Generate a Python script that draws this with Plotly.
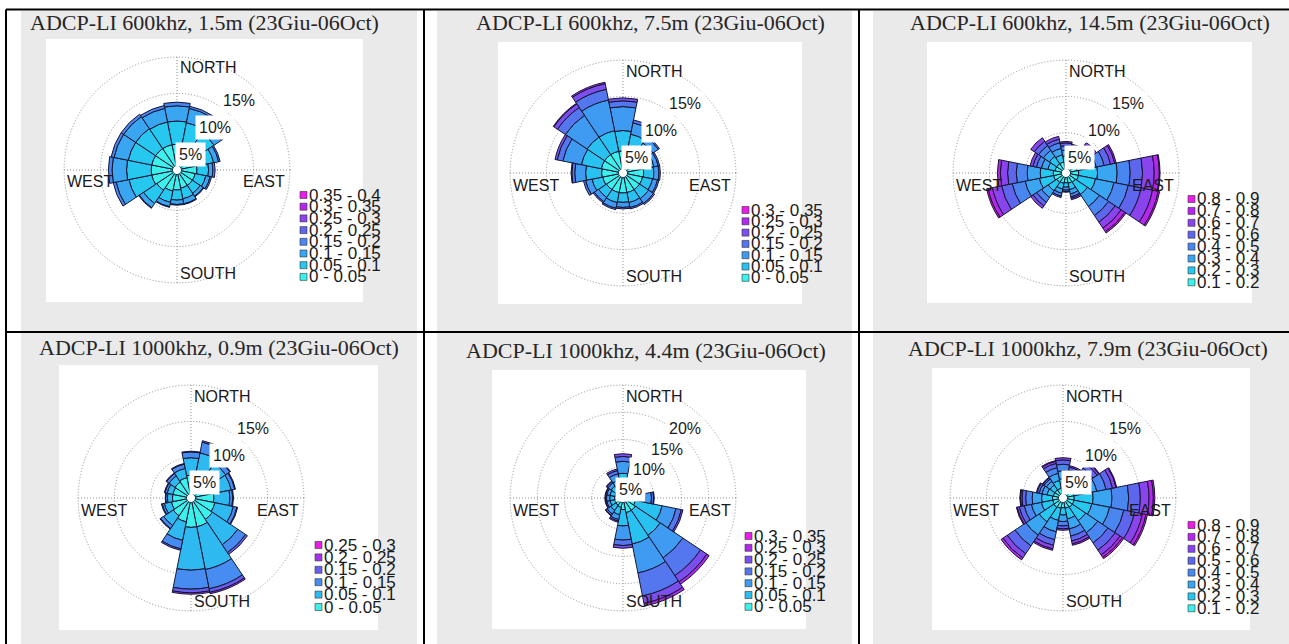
import math
import plotly.graph_objects as go

W, H = 1289, 644

# ---------------- DATA ----------------
DIRECTIONS = ["N", "NNE", "NE", "ENE", "E", "ESE", "SE", "SSE",
              "S", "SSW", "SW", "WSW", "W", "WNW", "NW", "NNW"]
THETA = [0, 22.5, 45, 67.5, 90, 112.5, 135, 157.5,
         180, 202.5, 225, 247.5, 270, 292.5, 315, 337.5]

TITLES = [
    "ADCP-LI 600khz, 1.5m (23Giu-06Oct)",
    "ADCP-LI 600khz, 7.5m (23Giu-06Oct)",
    "ADCP-LI 600khz, 14.5m (23Giu-06Oct)",
    "ADCP-LI 1000khz, 0.9m (23Giu-06Oct)",
    "ADCP-LI 1000khz, 4.4m (23Giu-06Oct)",
    "ADCP-LI 1000khz, 7.9m (23Giu-06Oct)",
]

CLASSES_P1 = ["0 - 0.05", "0.05 - 0.1", "0.1 - 0.15", "0.15 - 0.2",
              "0.2 - 0.25", "0.25 - 0.3", "0.3 - 0.35", "0.35 - 0.4"]
CLASSES_P2 = ["0 - 0.05", "0.05 - 0.1", "0.1 - 0.15", "0.15 - 0.2",
              "0.2 - 0.25", "0.25 - 0.3", "0.3 - 0.35"]
CLASSES_P3 = ["0.1 - 0.2", "0.2 - 0.3", "0.3 - 0.4", "0.4 - 0.5",
              "0.5 - 0.6", "0.6 - 0.7", "0.7 - 0.8", "0.8 - 0.9"]
CLASSES_P4 = ["0 - 0.05", "0.05 - 0.1", "0.1 - 0.15", "0.15 - 0.2",
              "0.2 - 0.25", "0.25 - 0.3"]
CLASSES_P5 = ["0 - 0.05", "0.05 - 0.1", "0.1 - 0.15", "0.15 - 0.2",
              "0.2 - 0.25", "0.25 - 0.3", "0.3 - 0.35"]
CLASSES_P6 = ["0.1 - 0.2", "0.2 - 0.3", "0.3 - 0.4", "0.4 - 0.5",
              "0.5 - 0.6", "0.6 - 0.7", "0.7 - 0.8", "0.8 - 0.9"]

# frequency (%) per speed class (rows) and direction (columns, DIRECTIONS order)
FREQ_P1 = [
    [3.0, 2.8, 2.6, 2.4, 2.2, 2.0, 2.0, 2.0, 2.2, 2.4, 2.8, 3.0, 3.0, 3.0, 3.0, 3.0],
    [3.2, 3.3, 3.0, 2.2, 1.6, 1.5, 1.3, 1.5, 1.4, 1.6, 2.2, 3.2, 3.4, 3.3, 3.3, 3.2],
    [2.1, 2.0, 1.2, 0.7, 0.6, 0.6, 0.5, 0.7, 0.6, 0.6, 0.7, 1.8, 2.0, 2.0, 2.0, 1.9],
    [0.5, 0.3, 0.3, 0.2, 0.3, 0.2, 0.1, 0.1, 0.1, 0.1, 0.1, 0.4, 0.5, 0.4, 0.4, 0.4],
    [0, 0, 0, 0, 0, 0, 0, 0, 0, 0, 0, 0, 0, 0, 0, 0],
    [0, 0, 0, 0, 0, 0, 0, 0, 0, 0, 0, 0, 0, 0, 0, 0],
    [0, 0, 0, 0, 0, 0, 0, 0, 0, 0, 0, 0, 0, 0, 0, 0],
    [0, 0, 0, 0, 0, 0, 0, 0, 0, 0, 0, 0, 0, 0, 0, 0],
]
FREQ_P2 = [
    [2.5, 2.5, 2.4, 2.3, 2.3, 2.2, 2.2, 2.2, 2.2, 2.2, 2.2, 2.3, 2.4, 2.5, 2.5, 2.5],
    [2.8, 2.4, 2.0, 1.5, 1.4, 1.4, 1.5, 1.4, 1.3, 1.4, 1.3, 1.5, 2.2, 2.8, 2.9, 2.9],
    [3.3, 1.6, 0.9, 0.6, 0.7, 0.7, 0.8, 0.7, 0.7, 0.8, 0.7, 0.9, 1.5, 2.6, 3.6, 4.3],
    [0.8, 0.4, 0.2, 0.2, 0.2, 0.2, 0.2, 0.2, 0.2, 0.2, 0.2, 0.3, 0.4, 0.8, 1.3, 1.5],
    [0.4, 0, 0, 0, 0, 0, 0, 0, 0, 0, 0, 0, 0.1, 0.3, 0.6, 0.8],
    [0, 0, 0, 0, 0, 0, 0, 0, 0, 0, 0, 0, 0, 0, 0.1, 0.2],
    [0, 0, 0, 0, 0, 0, 0, 0, 0, 0, 0, 0, 0, 0, 0, 0],
]
FREQ_P3 = [
    [0.9, 0.9, 1.0, 1.0, 1.2, 1.2, 1.0, 0.9, 0.8, 0.9, 1.0, 1.2, 1.2, 1.0, 1.0, 1.0],
    [0.9, 0.8, 1.0, 1.4, 2.6, 2.4, 2.0, 0.9, 0.6, 0.8, 1.4, 2.0, 1.8, 1.0, 1.2, 1.0],
    [0.8, 0.7, 0.9, 1.3, 2.7, 2.6, 2.0, 0.6, 0.4, 0.6, 1.1, 2.0, 1.8, 0.9, 1.0, 0.9],
    [0.6, 0.6, 0.7, 1.1, 1.8, 2.0, 1.5, 0.4, 0.2, 0.4, 0.8, 1.8, 1.5, 0.7, 0.8, 0.8],
    [0.4, 0.3, 0.5, 0.9, 1.7, 1.8, 1.1, 0.2, 0.1, 0.2, 0.6, 1.5, 1.2, 0.5, 0.7, 0.5],
    [0.2, 0.2, 0.4, 0.6, 1.6, 1.6, 1.0, 0.2, 0, 0, 0.4, 1.3, 1.0, 0.4, 0.6, 0.4],
    [0, 0, 0, 0.2, 0.7, 0.8, 0.6, 0, 0, 0, 0, 0.6, 0.4, 0, 0, 0],
    [0, 0, 0, 0, 0.1, 0.2, 0.2, 0, 0, 0, 0, 0.2, 0, 0, 0, 0],
]
FREQ_P4 = [
    [2.6, 2.6, 2.6, 2.6, 2.6, 2.8, 3.0, 3.5, 3.5, 2.8, 2.4, 2.2, 2.0, 2.0, 2.1, 2.3],
    [2.4, 3.2, 2.6, 2.5, 2.2, 2.6, 4.2, 6.0, 5.9, 2.6, 1.6, 1.0, 0.7, 0.8, 1.0, 1.3],
    [0.8, 1.5, 0.7, 0.5, 0.4, 0.5, 1.3, 2.7, 2.6, 1.2, 0.5, 0.3, 0.25, 0.3, 0.4, 0.6],
    [0.1, 0.2, 0.1, 0.1, 0.1, 0.1, 0.3, 0.5, 0.5, 0.2, 0.1, 0.1, 0.05, 0.1, 0.1, 0.1],
    [0, 0, 0, 0, 0, 0, 0, 0.2, 0.2, 0, 0, 0, 0, 0, 0, 0],
    [0, 0, 0, 0, 0, 0, 0, 0, 0, 0, 0, 0, 0, 0, 0, 0],
]
FREQ_P5 = [
    [1.2, 1.0, 0.9, 1.0, 1.2, 1.6, 2.0, 2.0, 1.4, 1.0, 0.9, 0.8, 0.8, 0.8, 0.9, 1.0],
    [2.6, 1.0, 0.8, 0.9, 2.2, 5.0, 5.5, 5.9, 3.0, 1.4, 1.1, 0.9, 0.9, 0.9, 1.0, 1.6],
    [2.2, 0.4, 0.4, 0.4, 1.1, 2.6, 5.0, 5.4, 2.6, 0.9, 0.8, 0.6, 0.6, 0.6, 0.7, 1.2],
    [0.9, 0.2, 0.1, 0.2, 0.4, 1.0, 3.9, 4.3, 1.0, 0.3, 0.3, 0.2, 0.2, 0.2, 0.3, 0.6],
    [0.5, 0, 0, 0, 0.1, 0.3, 1.4, 1.4, 0.5, 0.2, 0.1, 0.1, 0.1, 0.1, 0.1, 0.3],
    [0, 0, 0, 0, 0, 0, 0.5, 0.5, 0, 0, 0, 0, 0, 0, 0, 0],
    [0, 0, 0, 0, 0, 0, 0, 0, 0, 0, 0, 0, 0, 0, 0, 0],
]
FREQ_P6 = [
    [0.9, 0.8, 0.9, 1.0, 1.0, 1.0, 1.0, 0.9, 0.8, 0.9, 1.0, 0.9, 0.9, 0.8, 0.8, 0.8],
    [1.2, 1.0, 1.3, 1.6, 2.6, 2.5, 2.2, 1.5, 1.0, 1.7, 2.4, 1.6, 1.5, 0.9, 0.8, 1.1],
    [1.1, 0.9, 1.2, 1.6, 2.6, 2.5, 2.0, 1.4, 0.9, 1.6, 2.2, 1.4, 1.3, 0.7, 0.6, 1.0],
    [0.9, 0.7, 1.0, 1.3, 2.3, 2.0, 1.7, 1.0, 0.6, 1.1, 1.8, 1.0, 0.9, 0.4, 0.4, 0.8],
    [0.6, 0.4, 0.7, 0.9, 1.6, 1.5, 1.2, 0.7, 0.4, 0.8, 1.3, 0.7, 0.5, 0.3, 0.2, 0.6],
    [0.3, 0.2, 0.3, 0.5, 1.2, 1.1, 0.8, 0.4, 0.2, 0.5, 0.7, 0.3, 0.2, 0.1, 0.1, 0.3],
    [0, 0, 0.1, 0.1, 0.6, 0.5, 0.4, 0.2, 0, 0.2, 0.3, 0.1, 0.1, 0, 0, 0.1],
    [0, 0, 0, 0, 0.2, 0.2, 0.2, 0, 0, 0, 0, 0, 0, 0, 0, 0],
]

PCT_TICKS_15 = [5, 10, 15]
PCT_TICKS_20 = [5, 10, 15, 20]
COMPASS = ["NORTH", "SOUTH", "EAST", "WEST"]

# ---------------- STYLE / GEOMETRY ----------------
BASE_COLORS = [(60, 240, 236), (38, 200, 240), (58, 166, 242), (74, 134, 240),
               (94, 102, 238), (138, 68, 238), (182, 38, 236), (232, 30, 232)]
EDGE = "#161634"
GRID = "#8f8f8f"
GRAY = "#eaeaea"
R_PX = 114
HOLE = 0.035


def palette(n):
    out = []
    m = len(BASE_COLORS) - 1
    for i in range(n):
        t = i / (n - 1) * m
        k = min(int(t), m - 1)
        f = t - k
        a, b = BASE_COLORS[k], BASE_COLORS[k + 1]
        c = tuple(round(a[j] + (b[j] - a[j]) * f) for j in range(3))
        out.append("rgb(%d,%d,%d)" % c)
    return out


def X(px):
    return px / W


def Y(py):
    return 1 - py / H


PLOTS = [
    dict(freq=FREQ_P1, classes=CLASSES_P1, ticks=PCT_TICKS_15, center=(177, 170),
         title=(204, 22), gray=(21, 11, 417, 331), axes=(46, 39, 363, 302),
         legend=(300, 195, 11.7)),
    dict(freq=FREQ_P2, classes=CLASSES_P2, ticks=PCT_TICKS_15, center=(623, 173),
         title=(650, 23), gray=(437, 11, 852, 331), axes=(498, 42, 802, 304),
         legend=(742, 210, 11.3)),
    dict(freq=FREQ_P3, classes=CLASSES_P3, ticks=PCT_TICKS_15, center=(1066, 173),
         title=(1090, 23), gray=(873, 11, 1289, 331), axes=(927, 42, 1252, 303),
         legend=(1188, 199, 11.9)),
    dict(freq=FREQ_P4, classes=CLASSES_P4, ticks=PCT_TICKS_15, center=(191, 498),
         title=(219, 347), gray=(21, 333, 417, 644), axes=(59, 365, 378, 630),
         legend=(315, 545, 12.4)),
    dict(freq=FREQ_P5, classes=CLASSES_P5, ticks=PCT_TICKS_20, center=(623, 498),
         title=(646, 350), gray=(437, 333, 852, 644), axes=(492, 370, 806, 629),
         legend=(745, 536, 11.8)),
    dict(freq=FREQ_P6, classes=CLASSES_P6, ticks=PCT_TICKS_15, center=(1063, 498),
         title=(1088, 348), gray=(873, 333, 1289, 644), axes=(932, 368, 1250, 630),
         legend=(1188, 525, 11.9)),
]

fig = go.Figure()
shapes = []
annotations = []
layout_polars = {}

for idx, p in enumerate(PLOTS):
    name = "polar" if idx == 0 else "polar%d" % (idx + 1)
    cx, cy = p["center"]
    cols = palette(len(p["classes"]))
    rmax = p["ticks"][-1] * 1.01

    # background cell and white axes
    gx0, gy0, gx1, gy1 = p["gray"]
    shapes.append(dict(type="rect", xref="paper", yref="paper", layer="below",
                       x0=X(gx0), x1=X(gx1), y0=Y(gy1), y1=Y(gy0),
                       fillcolor=GRAY, line=dict(width=0)))
    ax0, ay0, ax1, ay1 = p["axes"]
    shapes.append(dict(type="rect", xref="paper", yref="paper", layer="below",
                       x0=X(ax0), x1=X(ax1), y0=Y(ay1), y1=Y(ay0),
                       fillcolor="white", line=dict(width=0)))

    # stacked rose bars
    for j, (lab, row) in enumerate(zip(p["classes"], p["freq"])):
        fig.add_trace(go.Barpolar(
            r=[v if v > 0 else None for v in row], theta=THETA,
            width=[22.5] * len(THETA), name=lab, subplot=name,
            marker=dict(color=cols[j], line=dict(color=EDGE, width=1)),
            showlegend=False, hoverinfo="skip"))

    layout_polars[name] = dict(
        domain=dict(x=[X(cx - R_PX), X(cx + R_PX)], y=[Y(cy + R_PX), Y(cy - R_PX)]),
        bgcolor="rgba(0,0,0,0)", hole=HOLE, bargap=0, barmode="stack",
        radialaxis=dict(range=[0, rmax], tickvals=p["ticks"], showticklabels=False,
                        ticks="", showline=False, gridcolor=GRID, griddash="1px,2px",
                        gridwidth=1, layer="below traces"),
        angularaxis=dict(direction="clockwise", rotation=90, tickvals=[0, 90, 180, 270],
                         showticklabels=False, ticks="", showline=False,
                         gridcolor=GRID, griddash="1px,2px", gridwidth=1,
                         layer="below traces"),
    )

    # title
    tx, ty = p["title"]
    annotations.append(dict(x=X(tx), y=Y(ty), xref="paper", yref="paper",
                            text=TITLES[idx], showarrow=False, xanchor="center",
                            yanchor="middle",
                            font=dict(family="Liberation Serif", size=22, color="#262626")))

    # compass labels
    cf = dict(family="Liberation Sans, Arial", size=16, color="#1a1a1a")
    annotations.append(dict(x=X(cx + 1), y=Y(cy - 102), text=COMPASS[0], xanchor="left",
                            yanchor="middle", showarrow=False, font=cf,
                            xref="paper", yref="paper"))
    annotations.append(dict(x=X(cx + 1), y=Y(cy + 103), text=COMPASS[1], xanchor="left",
                            yanchor="middle", showarrow=False, font=cf,
                            xref="paper", yref="paper"))
    annotations.append(dict(x=X(cx + 110), y=Y(cy + 12), text=COMPASS[2], xanchor="right",
                            yanchor="middle", showarrow=False, font=cf,
                            xref="paper", yref="paper"))
    annotations.append(dict(x=X(cx - 112), y=Y(cy + 12), text=COMPASS[3], xanchor="left",
                            yanchor="middle", showarrow=False, font=cf,
                            xref="paper", yref="paper"))

    # percentage labels (outermost first so inner boxes overlap)
    hole_px = HOLE * R_PX
    ang = math.radians(48)
    for v in reversed(p["ticks"]):
        rv = hole_px + (R_PX - hole_px) * v / rmax
        d = rv - 20
        annotations.append(dict(x=X(cx + d * math.cos(ang)), y=Y(cy - d * math.sin(ang)),
                                text="%d%%" % v, showarrow=False, xanchor="center",
                                yanchor="middle", bgcolor="white", borderpad=3,
                                xref="paper", yref="paper", font=cf))

    # legend (highest class on top)
    lx, ly, ls = p["legend"]
    n = len(p["classes"])
    for k in range(n):
        j = n - 1 - k
        yc = ly + k * ls
        shapes.append(dict(type="rect", xref="paper", yref="paper", layer="above",
                           x0=X(lx), x1=X(lx + 7), y0=Y(yc + 3.5), y1=Y(yc - 3.5),
                           fillcolor=cols[j], line=dict(color="#333333", width=0.6)))
        annotations.append(dict(x=X(lx + 7), y=Y(yc), xref="paper", yref="paper",
                                text=p["classes"][j], showarrow=False, xanchor="left",
                                yanchor="middle",
                                font=dict(family="Liberation Sans, Arial", size=17,
                                          color="#1a1a1a")))

# table lines
for (x0, y0, x1, y1) in [(6, 9.5, W, 9.5), (6, 332, W, 332), (6, 9.5, 6, H),
                         (424, 9.5, 424, H), (859, 9.5, 859, H)]:
    shapes.append(dict(type="line", xref="paper", yref="paper", layer="above",
                       x0=X(x0), x1=X(x1), y0=Y(y0), y1=Y(y1),
                       line=dict(color="black", width=2)))

fig.update_layout(
    width=W, height=H, margin=dict(l=0, r=0, t=0, b=0),
    paper_bgcolor="white", plot_bgcolor="white",
    shapes=shapes, annotations=annotations, showlegend=False,
    **layout_polars,
)

fig.write_html("out.html", config={"displayModeBar": False},
               post_script="document.body.style.margin='0px';")
